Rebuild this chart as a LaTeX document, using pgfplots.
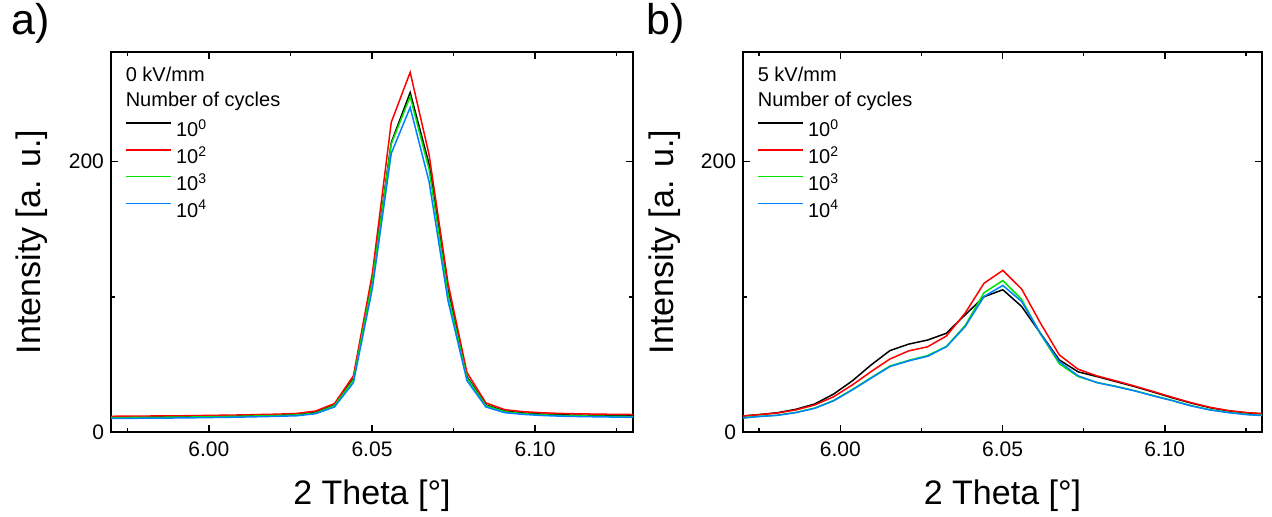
\documentclass[border=0pt]{standalone}
\usepackage{fontspec}
\setmainfont{Liberation Sans}
\usepackage{pgfplots}
\usepackage{pgfplotstable}
\pgfplotsset{compat=1.18}

\definecolor{cred}{RGB}{255,0,0}
\definecolor{cgreen}{RGB}{0,230,0}
\definecolor{cblue}{RGB}{0,128,255}

% 0 kV/mm
\pgfplotstableread{
x      c0    c2    c3    c4
5.9689 11.0  11.6  10.6  10.0
5.9747 11.1  11.7  10.7  10.1
5.9805 11.2  11.8  10.8  10.2
5.9863 11.3  11.9  10.9  10.3
5.9921 11.4  12.0  11.0  10.4
5.9979 11.6  12.2  11.2  10.6
6.0037 11.8  12.4  11.4  10.8
6.0095 12.0  12.6  11.6  11.0
6.0153 12.3  12.9  11.9  11.3
6.0211 12.6  13.2  12.2  11.6
6.0269 13.0  13.7  12.6  12.0
6.0327 14.5  15.5  14.0  13.5
6.0385 20.0  21.0  19.5  18.5
6.0443 39.5  41.5  38.5  36.5
6.0501 113   117   111   106
6.0559 214   229   213   206
6.0617 251   266   248   240
6.0675 198   205   194   185
6.0733 105   110   102   97
6.0791 41    44    40    38
6.0849 20.0  21.5  19.5  18.5
6.0907 15.5  16.5  15.0  14.3
6.0965 14.0  15.0  13.5  13.0
6.1023 13.2  14.2  12.7  12.2
6.1081 12.7  13.7  12.2  11.7
6.1139 12.4  13.4  11.9  11.4
6.1197 12.2  13.2  11.7  11.2
6.1255 12.0  13.0  11.5  11.0
6.1313 11.9  12.9  11.4  10.9
}\tabzero

% 5 kV/mm
\pgfplotstableread{
x      c0    c2    c3    c4
5.9689 11.6  11.6  10.3  10.1
5.9747 12.8  12.8  11.5  11.4
5.9805 14.2  14.0  12.4  12.3
5.9863 16.8  16.3  14.5  14.3
5.9921 20.7  20.0  17.7  17.5
5.9979 28.0  26.0  23.3  23.0
6.0037 37.8  34.8  31.4  31.1
6.0095 49.6  44.7  40.2  39.8
6.0153 60.2  54.0  48.8  48.4
6.0211 65.0  60.0  53.0  52.6
6.0269 68.0  63.0  56.5  56.0
6.0327 73.0  71.0  63.3  63.0
6.0385 86.7  88.0  78.8  78.0
6.0443 100.0 110.0 103.0 100.2
6.0501 105.2 119.5 112.0 108.4
6.0559 92.8  105.7 98.0  96.5
6.0617 73.0  80.5  72.5  72.8
6.0675 53.3  57.0  50.5  52.0
6.0733 44.5  46.4  41.0  41.5
6.0791 41.0  41.5  36.7  36.5
6.0849 37.3  37.8  33.8  33.6
6.0907 33.6  34.0  30.6  30.4
6.0965 29.5  29.9  26.9  26.7
6.1023 25.3  25.7  23.4  23.2
6.1081 21.4  21.7  19.5  19.3
6.1139 18.0  18.3  16.5  16.3
6.1197 15.6  15.8  14.5  14.3
6.1255 14.1  14.3  13.0  12.8
6.1313 13.3  13.4  12.2  12.0
}\tabfive

\tikzset{hdr/.style={anchor=base west, inner sep=0pt, font=\fontsize{10}{12}\selectfont, xshift=7.2pt}}

\pgfplotsset{
  xrd/.style={
    scale only axis, height=190pt,
    xmin=5.97, xmax=6.13, ymin=0, ymax=281,
    xtick={6.00,6.05,6.10}, minor xtick={5.975,6.025,6.075,6.125},
    ytick={0,200}, minor ytick={100},
    xticklabel={\pgfmathprintnumber[fixed,fixed zerofill,precision=2]{\tick}},
    scaled x ticks=false,
    /pgf/number format/assume math mode=true,
    tick align=inside,
    major tick length=3.5pt, minor tick length=1.8pt,
    axis line style={line width=0.8pt},
    every tick/.style={line width=0.8pt, black},
    tick label style={font=\fontsize{10.5}{12}\selectfont},
    xticklabel style={yshift=-1.5pt},
    label style={font=\fontsize{17}{20}\selectfont},
    xlabel={2 Theta [°]}, ylabel={Intensity [a. u.]},
    x label style={at={(axis description cs:0.5,-0.168)}, anchor=center},
    y label style={at={(axis description cs:-0.151,0.5)}, anchor=center},
    legend cell align=left,
    legend image code/.code={\draw[#1] (0pt,3.4pt) -- (22.3pt,3.4pt);},
    legend style={draw=none, fill=none, inner sep=0pt, outer sep=0pt,
      at={(0,1)}, anchor=north west, xshift=7.2pt, yshift=-33.5pt,
      font=\fontsize{10}{12}\selectfont, row sep=2.35pt, column sep=2.3pt,
      nodes={inner sep=0pt, text height=9pt, text depth=2pt}},
    every axis plot/.append style={line width=0.75pt},
  },
}

\begin{document}
\begin{tikzpicture}
\begin{axis}[xrd, width=261pt, at={(55.5pt,42.5pt)}, anchor=south west]
\addplot[black] table[x=x,y=c0] {\tabzero};
\addplot[cred] table[x=x,y=c2] {\tabzero};
\addplot[cgreen] table[x=x,y=c3] {\tabzero};
\addplot[cblue] table[x=x,y=c4] {\tabzero};
\legend{10\textsuperscript{0},10\textsuperscript{2},10\textsuperscript{3},10\textsuperscript{4}}
\node[hdr, yshift=-14.8pt] at (rel axis cs:0,1) {0 kV/mm};
\node[hdr, yshift=-27.3pt] at (rel axis cs:0,1) {Number of cycles};
\end{axis}
\begin{axis}[xrd, width=259.5pt, at={(371.5pt,42.5pt)}, anchor=south west]
\addplot[black] table[x=x,y=c0] {\tabfive};
\addplot[cred] table[x=x,y=c2] {\tabfive};
\addplot[cgreen] table[x=x,y=c3] {\tabfive};
\addplot[cblue] table[x=x,y=c4] {\tabfive};
\legend{10\textsuperscript{0},10\textsuperscript{2},10\textsuperscript{3},10\textsuperscript{4}}
\node[hdr, yshift=-14.8pt] at (rel axis cs:0,1) {5 kV/mm};
\node[hdr, yshift=-27.3pt] at (rel axis cs:0,1) {Number of cycles};
\end{axis}
\node[font=\fontsize{21.5}{24}\selectfont] at (15.5pt,247pt) {a)};
\node[font=\fontsize{21.5}{24}\selectfont] at (333pt,247pt) {b)};
\pgfresetboundingbox
\useasboundingbox (0,0) rectangle (636pt,258.5pt);
\end{tikzpicture}
\end{document}
